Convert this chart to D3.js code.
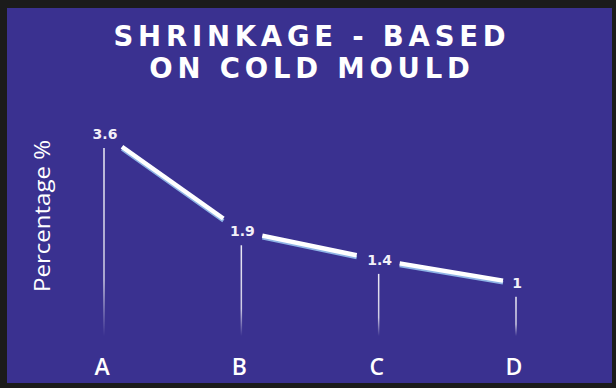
<!DOCTYPE html>
<html>
<head>
<meta charset="utf-8">
<script src="https://cdn.jsdelivr.net/npm/d3@7"></script>
<style>
  html, body { margin: 0; padding: 0; background: #1b1b1b; }
  svg { display: block; }
</style>
</head>
<body>
<script>
// Shrinkage per category, cold mould
const categories = ["A", "B", "C", "D"];
const shrinkage = [3.6, 1.9, 1.4, 1];
const titleLines = ["SHRINKAGE - BASED", "ON COLD MOULD"];
const yAxisTitle = "Percentage %";

const W = 616, H = 388;
const svg = d3.select("body").append("svg").attr("width", W).attr("height", H);

// dark frame and blue panel
svg.append("rect").attr("width", W).attr("height", H).attr("fill", "#1b1b1b");
svg.append("rect").attr("x", 7).attr("y", 8).attr("width", 605).attr("height", 375).attr("fill", "#3a3190");

const defs = svg.append("defs");
const grad = defs.append("linearGradient").attr("id", "drop").attr("x1", 0).attr("y1", 0).attr("x2", 0).attr("y2", 1);
grad.append("stop").attr("offset", "0%").attr("stop-color", "#ffffff").attr("stop-opacity", 0.9);
grad.append("stop").attr("offset", "70%").attr("stop-color", "#ffffff").attr("stop-opacity", 0.75);
grad.append("stop").attr("offset", "100%").attr("stop-color", "#ffffff").attr("stop-opacity", 0);

const x = d3.scalePoint().domain(categories).range([104, 516]);
const y = d3.scaleLinear().domain([0, 3.6]).range([340, 134]);
const baseY = 336;

// two-line title in a single text block
const title = svg.append("text")
  .attr("text-anchor", "middle")
  .attr("fill", "#ffffff")
  .attr("font-family", "'DejaVu Sans', sans-serif")
  .attr("font-weight", "bold")
  .attr("font-size", 27.5)
  .attr("letter-spacing", 4.8);
title.selectAll("tspan").data(titleLines).join("tspan")
  .attr("x", W / 2 + 4)
  .attr("y", (d, i) => 46 + i * 32)
  .text(d => d);

// y axis title
svg.append("text")
  .attr("transform", `translate(50,216) rotate(-90)`)
  .attr("text-anchor", "middle")
  .attr("fill", "#ffffff")
  .attr("font-family", "'Open Sans', sans-serif")
  .attr("font-size", 22)
  .attr("textLength", 152)
  .attr("lengthAdjust", "spacingAndGlyphs")
  .text(yAxisTitle);

const pts = categories.map((c, i) => ({ c, v: shrinkage[i], px: x(c), py: y(shrinkage[i]) }));

// drop lines from each value label down to the baseline
svg.append("g").selectAll("rect").data(pts).join("rect")
  .attr("x", d => d.px - 0.75)
  .attr("y", d => d.py + 14)
  .attr("width", 1.5)
  .attr("height", d => baseY - (d.py + 14))
  .attr("fill", "url(#drop)");

// connecting segments, broken around the value labels
const gapStart = [18, 21, 21];
const gapEnd = [18, 22, 13];
const segs = d3.pairs(pts).map(([a, b], i) => {
  const dx = b.px - a.px;
  const t0 = gapStart[i] / dx, t1 = 1 - gapEnd[i] / dx;
  return {
    x1: a.px + dx * t0, y1: a.py + (b.py - a.py) * t0,
    x2: a.px + dx * t1, y2: a.py + (b.py - a.py) * t1
  };
});
const segG = svg.append("g");
segG.selectAll("line.shadow").data(segs).join("line")
  .attr("class", "shadow")
  .attr("x1", d => d.x1).attr("y1", d => d.y1 + 2.2)
  .attr("x2", d => d.x2).attr("y2", d => d.y2 + 2.2)
  .attr("stroke", "#8fb4e6").attr("stroke-width", 3.5);
segG.selectAll("line.main").data(segs).join("line")
  .attr("class", "main")
  .attr("x1", d => d.x1).attr("y1", d => d.y1)
  .attr("x2", d => d.x2).attr("y2", d => d.y2)
  .attr("stroke", "#ffffff").attr("stroke-width", 4.5);

// value labels
svg.append("g").selectAll("text").data(pts).join("text")
  .attr("x", d => d.px + 1)
  .attr("y", d => d.py + 5)
  .attr("text-anchor", "middle")
  .attr("fill", "#f2f0f8")
  .attr("font-family", "'DejaVu Sans', sans-serif")
  .attr("font-weight", "bold")
  .attr("font-size", 14)
  .text(d => d.v);

// category labels
svg.append("g").selectAll("text").data(pts).join("text")
  .attr("x", d => d.px - 2)
  .attr("y", 375)
  .attr("text-anchor", "middle")
  .attr("fill", "#ffffff")
  .attr("font-family", "'Open Sans', sans-serif")
  .attr("font-weight", 600)
  .attr("font-size", 23)
  .text(d => d.c);
</script>
</body>
</html>
